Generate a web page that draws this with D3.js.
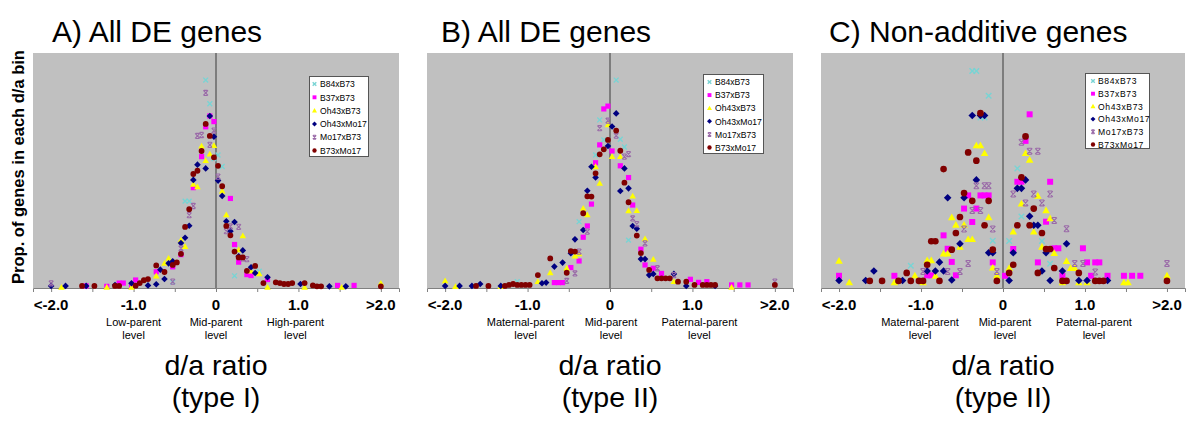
<!DOCTYPE html>
<html><head><meta charset="utf-8">
<script src="https://cdn.jsdelivr.net/npm/d3@7"></script>
<style>
body{margin:0;background:#fff;}
svg{display:block;font-family:"Liberation Sans",Arial,Helvetica,sans-serif;}
</style>
</head><body>
<svg id="chart" width="1200" height="425"></svg>
<script>
// ---------- labels ----------
const seriesNames = ["B84xB73","B37xB73","Oh43xB73","Oh43xMo17","Mo17xB73","B73xMo17"];
const panelTitles = ["A) All DE genes","B) All DE genes","C) Non-additive genes"];
const tickValues = [-2,-1,0,1,2];
const tickLabels = ["<-2.0","-1.0","0","1.0",">2.0"];
const minorTickValues = [-2,-1.5,-1,-0.5,0,0.5,1,1.5,2];
const levelPositions = [-1,0,1];
const levelLabelsA = ["Low-parent","Mid-parent","High-parent"];
const levelLabelsBC = ["Maternal-parent","Mid-parent","Paternal-parent"];
const levelWord = "level";
const axisTitle = "d/a ratio";
const typeLabels = ["(type I)","(type II)","(type II)"];
const yAxisTitle = "Prop. of genes in each d/a bin";

// ---------- data: [d/a bin, proportion (%)] ----------
// Panel A
const A_B84xB73 = [[-0.525,0.25],[-0.375,3.70],[-0.325,3.70],[-0.125,8.85],[-0.075,7.84],[-0.025,5.5],[0.025,5.66],[0.075,5.17],[0.225,0.52],[0.525,0.72]];
const A_B37xB73 = [[-1.575,0.09],[-1.325,0.07],[-1.175,0.21],[-1.125,0.21],[-1.025,0.07],[-0.975,0.34],[-0.725,0.69],[-0.525,0.9],[-0.425,1.42],[-0.275,4.27],[-0.175,5.59],[-0.125,6.86],[-0.075,7.32],[-0.025,7.08],[0.175,3.81],[0.225,1.85],[0.275,1.10],[0.375,0.57],[0.425,0.53],[0.625,0.36],[1.475,0.11],[1.675,0.11]];
const A_Oh43xB73 = [[-1.875,0.03],[-1.325,0.03],[-1.025,0.03],[-0.725,0.51],[-0.625,1.05],[-0.575,1.26],[-0.425,2.04],[-0.375,1.76],[-0.275,4.41],[-0.225,4.3],[-0.175,6.04],[-0.125,5.42],[-0.075,5.70],[-0.025,6.06],[0.075,4.12],[0.125,3.11],[0.275,1.62],[0.325,2.22],[0.425,0.72],[0.525,0.6],[0.625,0.03],[1.075,0.03],[1.525,0.03],[2.0,0.2]];
const A_Oh43xMo17 = [[-2.0,0.09],[-1.825,0.09],[-1.575,0.09],[-1.225,0.13],[-1.025,0.2],[-0.825,0.11],[-0.725,0.16],[-0.675,0.78],[-0.625,0.38],[-0.575,1.05],[-0.525,1.14],[-0.425,1.91],[-0.375,2.14],[-0.325,2.65],[-0.275,4.6],[-0.225,5.25],[-0.125,5.09],[-0.075,7.32],[-0.025,6.44],[0.025,4.57],[0.075,3.92],[0.125,2.84],[0.175,2.42],[0.225,2.81],[0.275,1.35],[0.325,1.6],[0.425,0.88],[0.475,0.64],[0.625,0.46],[1.025,0.17],[1.375,0.07],[1.575,0.07]];
const A_Mo17xB73 = [[-2.0,0.2],[-0.525,0.27],[-0.425,1.69],[-0.325,3.1],[-0.275,3.49],[-0.225,6.47],[-0.175,6.51],[-0.125,8.30],[-0.075,6.09],[-0.025,6.7],[0.025,4.74],[0.125,2.42],[0.175,2.62],[0.275,2.6],[0.325,1.26],[0.375,1.23]];
const A_B73xMo17 = [[-1.625,0.09],[-1.475,0.09],[-1.225,0.09],[-1.175,0.09],[-0.975,0.1],[-0.925,0.21],[-0.875,0.33],[-0.825,0.38],[-0.725,0.96],[-0.625,0.68],[-0.525,0.98],[-0.475,1.09],[-0.425,1.45],[-0.375,2.6],[-0.325,3.35],[-0.275,4.85],[-0.225,4.99],[-0.175,5.83],[-0.125,6.98],[-0.075,6.47],[-0.025,5.56],[0.025,5.2],[0.075,4.33],[0.125,2.64],[0.175,2.24],[0.225,1.55],[0.275,1.3],[0.325,1.3],[0.375,0.73],[0.475,0.94],[0.575,0.21],[0.725,0.24],[0.775,0.21],[0.825,0.17],[0.875,0.17],[0.925,0.21],[1.075,0.21],[1.175,0.11],[1.225,0.07],[1.275,0.07],[2.0,0.07]];
// Panel B
const B_B84xB73 = [[-1.125,0.27],[-0.375,2.82],[-0.175,5.66],[-0.125,7.15],[-0.075,6.3],[0.075,8.85],[0.125,6.33],[0.175,6.0],[0.225,2.04]];
const B_B37xB73 = [[-0.675,0.23],[-0.625,0.23],[-0.575,0.23],[-0.475,0.87],[-0.375,1.15],[-0.325,2.16],[-0.275,2.64],[-0.225,3.57],[-0.175,5.33],[-0.125,6.09],[-0.075,7.62],[-0.025,7.74],[0.025,5.83],[0.125,5.2],[0.225,4.7],[0.275,3.53],[0.375,1.65],[0.425,0.98],[0.525,0.84],[0.625,0.62],[0.975,0.37],[1.075,0.24],[1.175,0.27],[1.475,0.13],[1.575,0.13],[1.675,0.13]];
const B_Oh43xB73 = [[-2.0,0.3],[-1.875,0.06],[-1.325,0.06],[-0.875,0.27],[-0.725,0.65],[-0.525,0.84],[-0.425,1.36],[-0.375,1.45],[-0.325,3.39],[-0.275,3.11],[-0.175,5.16],[-0.125,4.45],[-0.025,6.94],[0.025,5.59],[0.125,5.59],[0.225,3.28],[0.275,3.91],[0.325,3.29],[0.425,2.09],[0.525,1.22],[0.775,0.27],[1.475,0.03]];
const B_Oh43xMo17 = [[-2.0,0.09],[-1.825,0.09],[-1.675,0.09],[-1.575,0.17],[-1.325,0.09],[-0.825,0.2],[-0.775,0.23],[-0.675,0.91],[-0.575,1.08],[-0.475,1.48],[-0.425,2.07],[-0.325,2.47],[-0.275,4.14],[-0.225,5.16],[-0.175,4.7],[-0.025,6.04],[0.025,6.87],[0.075,7.43],[0.125,4.13],[0.175,5.09],[0.225,4.24],[0.275,2.64],[0.325,2.52],[0.375,1.23],[0.425,1.23],[0.475,0.55],[0.525,0.6],[0.775,0.6],[0.925,0.09],[1.275,0.09]];
const B_Mo17xB73 = [[-0.525,0.3],[-0.425,0.62],[-0.375,1.55],[-0.275,2.4],[-0.125,6.8],[-0.025,7.12],[0.075,6.48],[0.175,5.59],[0.225,5.7],[0.275,2.96],[0.325,2.72],[0.425,1.9],[0.575,0.84],[0.775,0.55],[2.0,0.27]];
const B_B73xMo17 = [[-1.625,0.09],[-1.475,0.09],[-1.275,0.09],[-1.225,0.13],[-1.175,0.17],[-1.125,0.13],[-1.075,0.13],[-1.025,0.13],[-0.975,0.13],[-0.875,0.55],[-0.725,1.26],[-0.525,0.65],[-0.475,1.57],[-0.425,1.55],[-0.325,3.18],[-0.275,3.9],[-0.225,3.89],[-0.175,4.88],[-0.125,5.69],[-0.075,5.9],[-0.025,6.3],[0.075,6.7],[0.125,5.84],[0.175,4.48],[0.225,3.65],[0.325,2.23],[0.375,1.48],[0.475,0.77],[0.575,0.41],[0.625,0.41],[0.675,0.41],[0.725,0.41],[0.825,0.27],[0.925,0.27],[1.025,0.13],[1.125,0.13],[1.175,0.13],[1.225,0.13],[1.275,0.13],[2.0,0.13]];
// Panel C
const C_B84xB73 = [[-1.125,0.95],[-0.375,9.23],[-0.325,9.23],[-0.275,7.26],[-0.225,7.26],[-0.175,8.18],[-0.125,2.01],[0.075,2.0],[0.175,5.09],[0.225,3.04],[0.475,2.0],[0.575,1.03]];
const C_B37xB73 = [[-2.0,0.52],[-1.325,0.52],[-0.925,0.54],[-0.875,0.54],[-0.725,2.24],[-0.675,1.67],[-0.625,1.11],[-0.575,0.54],[-0.475,3.38],[-0.425,3.94],[-0.375,2.81],[-0.325,3.38],[-0.275,3.94],[-0.225,3.94],[-0.175,3.94],[-0.125,1.09],[0.025,0.52],[0.125,1.66],[0.175,4.52],[0.225,4.52],[0.275,6.26],[0.325,7.39],[0.425,1.09],[0.525,2.82],[0.575,4.52],[0.625,1.69],[0.675,1.69],[0.725,0.52],[0.975,1.69],[1.025,1.09],[1.075,0.52],[1.125,1.09],[1.175,1.09],[1.275,0.52],[1.475,0.52],[1.575,0.52],[1.675,0.52]];
const C_Oh43xB73 = [[-2.0,1.15],[-1.875,0.23],[-1.325,0.23],[-1.075,0.52],[-0.975,0.23],[-0.925,1.17],[-0.875,1.17],[-0.825,0.51],[-0.725,1.46],[-0.675,1.46],[-0.625,3.0],[-0.575,2.68],[-0.525,1.74],[-0.475,2.68],[-0.425,2.07],[-0.375,2.07],[-0.325,6.06],[-0.275,6.06],[-0.225,5.73],[-0.175,3.0],[-0.125,0.86],[-0.075,0.52],[0.075,0.84],[0.125,2.39],[0.225,3.59],[0.275,5.73],[0.325,5.45],[0.375,2.39],[0.425,3.92],[0.475,1.75],[0.525,3.3],[0.575,2.96],[0.625,1.48],[0.725,0.23],[0.775,1.14],[0.825,0.84],[0.875,0.84],[0.925,0.23],[1.025,0.23],[1.475,0.23],[1.525,0.23],[2.0,0.52]];
const C_Oh43xMo17 = [[-2.0,0.32],[-1.675,0.32],[-1.575,0.72],[-1.225,0.32],[-0.925,0.72],[-0.825,0.72],[-0.775,1.1],[-0.725,0.72],[-0.675,3.84],[-0.625,0.34],[-0.525,1.88],[-0.475,3.84],[-0.375,7.34],[-0.325,4.6],[-0.275,7.34],[-0.225,7.34],[-0.175,1.5],[-0.125,1.5],[0.075,0.32],[0.125,1.5],[0.175,4.24],[0.225,4.24],[0.275,4.6],[0.325,3.05],[0.375,2.67],[0.425,2.67],[0.475,0.72],[0.525,1.5],[0.575,0.32],[0.725,0.72],[0.775,1.88],[0.925,0.32],[1.025,0.32],[1.275,0.32]];
const C_Mo17xB73 = [[-0.975,0.7],[-0.675,0.7],[-0.525,0.7],[-0.475,2.51],[-0.425,1.04],[-0.375,3.3],[-0.325,4.35],[-0.275,3.3],[-0.225,4.35],[-0.175,4.35],[-0.125,2.51],[-0.075,0.7],[0.125,4.0],[0.225,6.2],[0.275,3.62],[0.325,5.82],[0.375,4.0],[0.425,5.82],[0.475,3.62],[0.575,4.0],[0.625,2.87],[0.775,2.52],[0.875,1.04],[0.975,1.04],[1.125,0.68],[2.0,1.04]];
const C_B73xMo17 = [[-1.625,0.3],[-1.475,0.3],[-1.275,0.3],[-1.175,0.64],[-1.125,0.3],[-1.025,0.3],[-0.975,0.3],[-0.925,0.99],[-0.875,1.99],[-0.825,1.99],[-0.775,0.3],[-0.725,5.06],[-0.625,1.63],[-0.575,2.34],[-0.525,3.02],[-0.475,4.04],[-0.425,5.77],[-0.375,3.71],[-0.325,5.42],[-0.275,7.44],[-0.225,2.67],[-0.175,3.71],[-0.125,1.63],[-0.075,0.3],[0.075,0.64],[0.125,0.99],[0.175,2.67],[0.225,4.71],[0.275,6.45],[0.325,2.67],[0.375,3.38],[0.425,0.64],[0.475,2.34],[0.525,1.66],[0.575,1.66],[0.625,0.85],[0.725,0.3],[0.775,0.3],[0.925,0.64],[1.125,0.3],[1.175,0.3],[1.225,0.3],[2.0,0.3]];

const panelA = [A_B84xB73, A_B37xB73, A_Oh43xB73, A_Oh43xMo17, A_Mo17xB73, A_B73xMo17];
const panelB = [B_B84xB73, B_B37xB73, B_Oh43xB73, B_Oh43xMo17, B_Mo17xB73, B_B73xMo17];
const panelC = [C_B84xB73, C_B37xB73, C_Oh43xB73, C_Oh43xMo17, C_Mo17xB73, C_B73xMo17];

// ---------- styles ----------
const seriesColors = ["#78d4d4","#ff00ff","#ffff00","#000080","#9a6aa8","#800000"];
const seriesShapes = ["x","square","triangle","diamond","star","circle"];

function markerPath(shape, s){
  switch(shape){
    case "square": return `M${-2.6*s},${-2.6*s}h${5.2*s}v${5.2*s}h${-5.2*s}Z`;
    case "triangle": return `M0,${-3.4*s}L${3.3*s},${2.4*s}L${-3.3*s},${2.4*s}Z`;
    case "diamond": return `M0,${-3.3*s}L${3.3*s},0L0,${3.3*s}L${-3.3*s},0Z`;
    case "circle": { const r=2.9*s; return `M${r},0A${r},${r} 0 1,1 ${-r},0A${r},${r} 0 1,1 ${r},0Z`; }
    case "x": return `M${-2.4*s},${-2.4*s}L${2.4*s},${2.4*s}M${-2.4*s},${2.4*s}L${2.4*s},${-2.4*s}`;
    case "star": return `M${-2.3*s},${-2.5*s}L${2.3*s},${2.5*s}M${-2.3*s},${2.5*s}L${2.3*s},${-2.5*s}M${-1.8*s},${-2.6*s}L${1.8*s},${-2.6*s}M${-1.8*s},${2.6*s}L${1.8*s},${2.6*s}`;
  }
}
function styleMarker(sel, i){
  const shape = seriesShapes[i];
  if(shape==="x"||shape==="star"){
    sel.attr("fill","none").attr("stroke",seriesColors[i]).attr("stroke-width", shape==="x"?1.4:1.1);
  } else {
    sel.attr("fill",seriesColors[i]).attr("stroke","none");
  }
}

const svg = d3.select("#chart");
const plotTop = 53, plotBottom = 288;
const panels = [
  {left:33, width:366, data:panelA, title:panelTitles[0], levels:levelLabelsA, levelShift:[0,0,-3], type:typeLabels[0], legend:{x:309,y:76,w:59,h:80,row:13.3,mx:5.5,tx:11,ls:0}, ms:1, titleX:52},
  {left:427, width:366, data:panelB, title:panelTitles[1], levels:levelLabelsBC, levelShift:[-2,1,7], type:typeLabels[1], legend:{x:703,y:74,w:60,h:79,row:13.1,mx:6.5,tx:12,ls:0}, ms:1, titleX:441},
  {left:821, width:364, data:panelC, title:panelTitles[2], levels:levelLabelsBC, levelShift:[-1,2,9], type:typeLabels[2], legend:{x:1085,y:73,w:64,h:75,row:12.7,mx:8,tx:13,ls:0.6}, ms:1.15, titleX:829}
];

const y = d3.scaleLinear().domain([0,10]).range([plotBottom, plotTop]);

panels.forEach((p) => {
  const x = d3.scaleLinear().domain([-2.22,2.22]).range([p.left, p.left+p.width]);
  const g = svg.append("g");

  g.append("rect").attr("x",p.left).attr("y",plotTop).attr("width",p.width).attr("height",plotBottom-plotTop).attr("fill","#c0c0c0");

  const ax = g.append("g").attr("transform",`translate(0,${plotBottom})`)
    .call(d3.axisBottom(x).tickValues(minorTickValues).tickSize(4).tickFormat(""));
  ax.select(".domain").attr("stroke","#808080");
  ax.selectAll(".tick line").attr("stroke","#808080");

  g.append("line").attr("x1",x(0)).attr("x2",x(0)).attr("y1",plotTop).attr("y2",plotBottom).attr("stroke","#3a3a3a").attr("stroke-width",1);

  g.selectAll(".tl").data(tickValues).enter().append("text")
    .attr("x",d=>x(d)).attr("y",310).attr("text-anchor","middle")
    .attr("font-size",15).attr("font-weight","bold").attr("fill","#000")
    .text((d,i)=>tickLabels[i]);

  g.selectAll(".lv").data(levelPositions).enter().append("text")
    .attr("x",(d,i)=>x(d)+p.levelShift[i]).attr("y",326).attr("text-anchor","middle")
    .attr("font-size",11).attr("fill","#000").text((d,i)=>p.levels[i]);
  g.selectAll(".lv2").data(levelPositions).enter().append("text")
    .attr("x",(d,i)=>x(d)+p.levelShift[i]).attr("y",339).attr("text-anchor","middle")
    .attr("font-size",11).attr("fill","#000").text(levelWord);

  g.append("text").attr("x",x(0)).attr("y",375).attr("text-anchor","middle").attr("font-size",28.5).text(axisTitle);
  g.append("text").attr("x",x(0)).attr("y",407).attr("text-anchor","middle").attr("font-size",28.5).text(p.type);

  g.append("text").attr("x",p.titleX).attr("y",42).attr("font-size",30).text(p.title);

  p.data.forEach((series, i) => {
    g.append("g").selectAll("path").data(series).enter().append("path")
      .attr("transform", d => `translate(${x(d[0])},${y(d[1])})`)
      .attr("d", markerPath(seriesShapes[i], p.ms))
      .call(styleMarker, i);
  });

  const L = p.legend;
  const lg = g.append("g");
  lg.append("rect").attr("x",L.x+0.5).attr("y",L.y+0.5).attr("width",L.w).attr("height",L.h)
    .attr("fill","#fff").attr("stroke","#555").attr("stroke-width",1);
  seriesNames.forEach((name,i) => {
    const cy = L.y + 8 + i*L.row;
    lg.append("path").attr("transform",`translate(${L.x+L.mx},${cy})`)
      .attr("d", markerPath(seriesShapes[i], 0.75)).call(styleMarker, i);
    lg.append("text").attr("x",L.x+L.tx).attr("y",cy+3.2).attr("font-size",8.6)
      .attr("letter-spacing",L.ls).attr("fill","#000").text(name);
  });
});

svg.append("text").attr("transform","translate(24,167) rotate(-90)")
  .attr("text-anchor","middle").attr("font-size",16.5).attr("font-weight","bold").text(yAxisTitle);
</script>
</body></html>
